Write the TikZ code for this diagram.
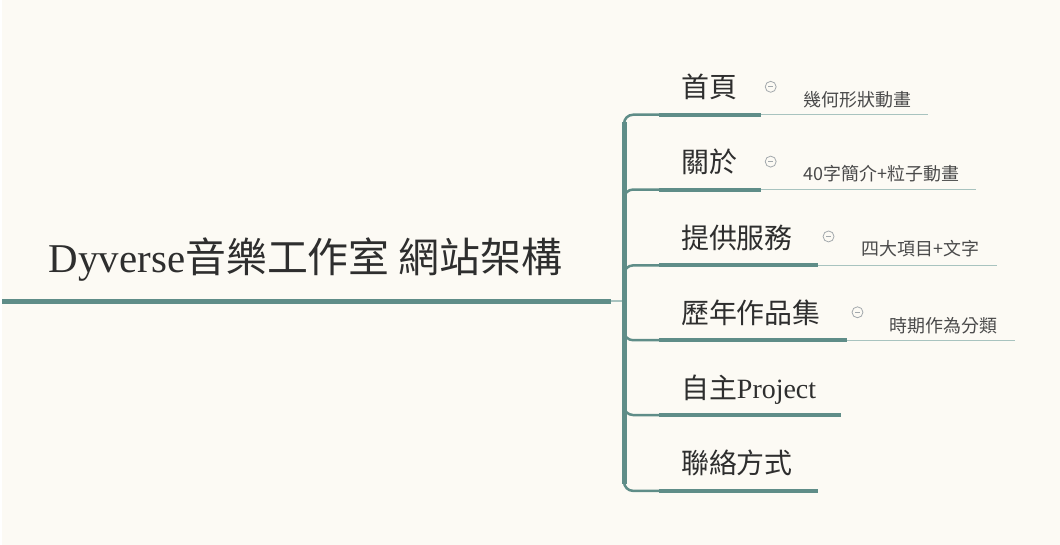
\documentclass[tikz,border=0pt]{standalone}
\usepackage{fontspec}
\setmainfont{Liberation Serif}
\newfontfamily\cjk{Noto Sans CJK TC}
\usetikzlibrary{positioning, calc}
\definecolor{paper}{HTML}{FCFAF4}
\definecolor{branch}{HTML}{5F8D88}
\definecolor{twig}{HTML}{A8C3BF}
\definecolor{ink}{HTML}{2E2E2E}
\definecolor{subink}{HTML}{4A4A4A}
\definecolor{foldgray}{HTML}{A3A9AD}

\begin{document}
\begin{tikzpicture}[x=1pt, y=-1pt,
    topic/.style={anchor=base west, inner sep=0pt, text=ink, font=\fontsize{28}{32}\selectfont\cjk},
    note/.style={anchor=base west, inner sep=0pt, text=subink, font=\fontsize{18}{21}\selectfont\cjk},
    fold/.style={circle, draw=foldgray, line width=0.8pt, minimum size=11pt, inner sep=0pt,
      path picture={\draw[foldgray, line width=0.8pt] ([xshift=-2.5pt]path picture bounding box.center) -- ([xshift=2.5pt]path picture bounding box.center);}},
    trunk/.style={line width=5pt, color=branch},
    stub/.style={line width=2.5pt, color=branch, rounded corners=9pt},
    under/.style={line width=4pt, color=branch},
    thin/.style={line width=1.4pt, color=twig}]
      % Background
      \fill[paper] (0,0) rectangle (1060,546);

      % Central topic
      \node[anchor=base, inner sep=0pt, text=ink, font=\fontsize{41}{49}\selectfont] (title) at (304,273) {Dyverse{\cjk 音樂工作室 網站架構}};
      \coordinate (root) at (0,302);
      \coordinate (root-end) at (610,302);
      \coordinate (hub) at (623,302);

      % Main topics
      \node[topic] (home) at (680,98) {首頁};
      \node[topic] (about) at (680,173) {關於};
      \node[topic] (service) at (680,249) {提供服務};
      \node[topic] (works) at (680,324) {歷年作品集};
      \node[topic] (project) at (680,399) {自主{\rmfamily Project}};
      \node[topic] (contact) at (680,475) {聯絡方式};

      % Fold buttons
      \node[fold] (home-fold) at (770,87) {};
      \node[fold] (about-fold) at (770,162) {};
      \node[fold] (service-fold) at (828,237) {};
      \node[fold] (works-fold) at (857,313) {};

      % Sub topics
      \node[note] (home-note) at (803,107) {幾何形狀動畫};
      \node[note] (about-note) at (803,181) {40字簡介+粒子動畫};
      \node[note] (service-note) at (861,256) {四大項目+文字};
      \node[note] (works-note) at (889,333) {時期作為分類};

      % Underline ends
      \coordinate (home-a) at (658,115);    \coordinate (home-b) at (760,115);    \coordinate (home-c) at (928,115);
      \coordinate (about-a) at (658,190);   \coordinate (about-b) at (760,190);   \coordinate (about-c) at (976,190);
      \coordinate (service-a) at (658,266); \coordinate (service-b) at (817,266); \coordinate (service-c) at (997,266);
      \coordinate (works-a) at (658,341);   \coordinate (works-b) at (846,341);   \coordinate (works-c) at (1015,341);
      \coordinate (project-a) at (658,416); \coordinate (project-b) at (840,416);
      \coordinate (contact-a) at (658,492); \coordinate (contact-b) at (817,492);

      % Connections
      \draw[trunk] (root) -- (root-end);
      \draw[line width=2pt, color=twig] (root-end) -- (hub);
      \draw[stub] (hub) |- (home-a);
      \draw[stub] (hub) |- (about-a);
      \draw[stub] (hub) |- (service-a);
      \draw[stub] (hub) |- (works-a);
      \draw[stub] (hub) |- (project-a);
      \draw[stub] (hub) |- (contact-a);
      \draw[trunk] ($(hub |- home-a)+(0,7)$) -- ($(hub |- contact-a)+(0,-7)$);

      \draw[thin] (home-b) -- (home-c);
      \draw[thin] (about-b) -- (about-c);
      \draw[thin] (service-b) -- (service-c);
      \draw[thin] (works-b) -- (works-c);
      \draw[under] (home-a) -- (home-b);
      \draw[under] (about-a) -- (about-b);
      \draw[under] (service-a) -- (service-b);
      \draw[under] (works-a) -- (works-b);
      \draw[under] (project-a) -- (project-b);
      \draw[under] (contact-a) -- (contact-b);
\end{tikzpicture}
\end{document}
